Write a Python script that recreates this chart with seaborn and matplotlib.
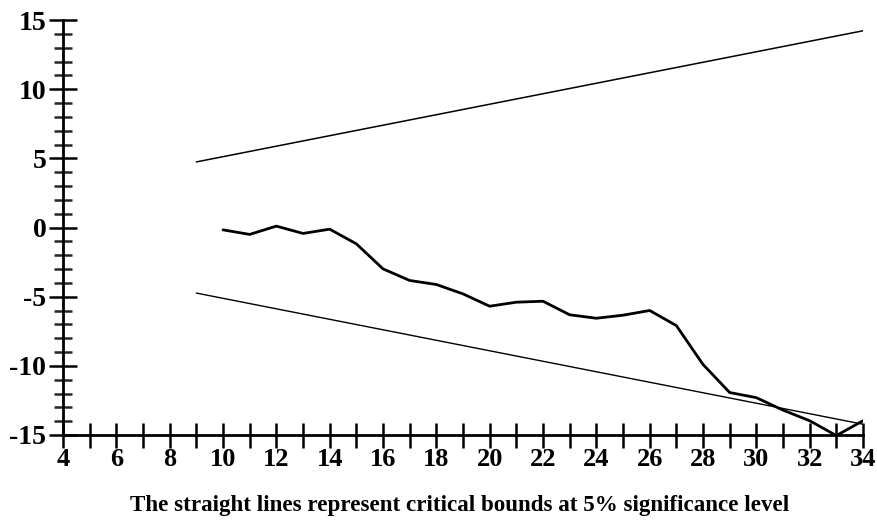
import matplotlib
matplotlib.use("Agg")
import matplotlib.pyplot as plt
import seaborn as sns
import pandas as pd
import numpy as np
from matplotlib.ticker import MultipleLocator

# Data
t_cusum = list(range(10, 35))
cusum = [-0.17, -0.5, 0.1, -0.43, -0.12, -1.18, -2.99, -3.83, -4.12, -4.8,
         -5.69, -5.4, -5.33, -6.31, -6.56, -6.34, -6.0, -7.09, -9.9, -11.93,
         -12.3, -13.2, -13.97, -15.04, -13.97]
t_bound = [9, 34]
upper_bound = [4.74, 14.22]
lower_bound = [-4.74, -14.22]
caption = "The straight lines represent critical bounds at 5% significance level"

sns.set_style("ticks")
plt.rcParams['font.family'] = ['Liberation Serif', 'DejaVu Serif']
plt.rcParams['font.weight'] = 'bold'
plt.rcParams['axes.unicode_minus'] = False
plt.rcParams['text.color'] = 'black'

fig = plt.figure(figsize=(8.77, 5.25), dpi=100)
ax = fig.add_axes([63/877, 1-435/525, 800/877, 415/525])

df = pd.DataFrame({"t": t_cusum, "v": cusum})
dfu = pd.DataFrame({"t": t_bound, "v": upper_bound})
dfl = pd.DataFrame({"t": t_bound, "v": lower_bound})
sns.lineplot(data=dfu, x="t", y="v", ax=ax, color="black", linewidth=1.1)
sns.lineplot(data=dfl, x="t", y="v", ax=ax, color="black", linewidth=1.0)
sns.lineplot(data=df, x="t", y="v", ax=ax, color="black", linewidth=2.0)

ax.set_xlim(4, 34)
ax.set_ylim(-15, 15)
ax.xaxis.set_major_locator(MultipleLocator(2))
ax.xaxis.set_minor_locator(MultipleLocator(1))
ax.yaxis.set_major_locator(MultipleLocator(5))
ax.yaxis.set_minor_locator(MultipleLocator(1))

for s in ["top", "right"]:
    ax.spines[s].set_visible(False)
for s in ["left", "bottom"]:
    ax.spines[s].set_linewidth(2.0)
    ax.spines[s].set_color("black")
    ax.spines[s].set_zorder(5)

ax.tick_params(axis="x", which="both", direction="inout", length=18, width=1.8,
               labelsize=19, pad=0, colors="black")
ax.tick_params(axis="y", which="major", direction="inout", length=20, width=1.8,
               labelsize=20, pad=2, colors="black")
ax.tick_params(axis="y", which="minor", direction="inout", length=13, width=1.8)
for lab in ax.get_xticklabels() + ax.get_yticklabels():
    lab.set_fontweight("bold")
    lab.set_color("black")

ax.set_xlabel("")
ax.set_ylabel("")
fig.text(460/877, 1-505/525, caption, ha="center", va="center",
         fontsize=16.6, fontweight="bold", color="black")

fig.savefig("out.png", dpi=100, facecolor="white")
